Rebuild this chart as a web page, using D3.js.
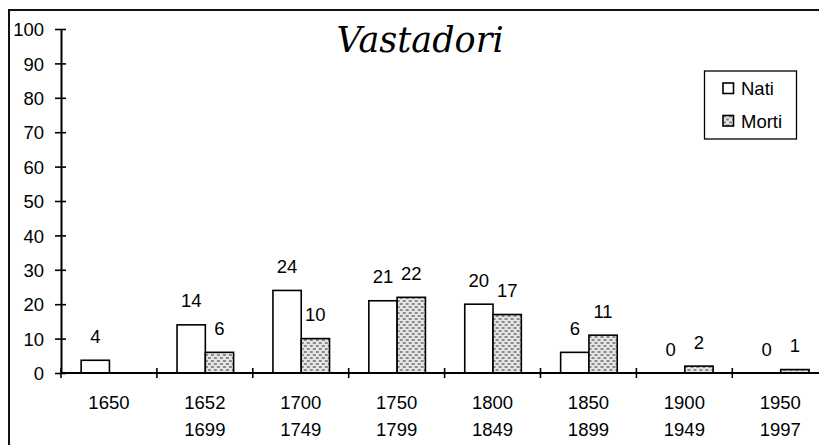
<!DOCTYPE html>
<html><head><meta charset="utf-8">
<script src="https://cdn.jsdelivr.net/npm/d3@7"></script>
<style>body{margin:0;background:#fff}svg{display:block}</style>
</head><body>
<svg id="c" width="819" height="445"></svg>
<script>
const categories = [["1650",""],["1652","1699"],["1700","1749"],["1750","1799"],["1800","1849"],["1850","1899"],["1900","1949"],["1950","1997"]];
const seriesNames = ["Nati","Morti"];
const nati  = [3.7, 14, 24, 21, 20, 6, 0, 0];
const morti = [null, 6, 10, 22, 17, 11, 2, 1];
const yTicks = [0,10,20,30,40,50,60,70,80,90,100];
const title = "Vastadori";

const svg = d3.select("#c");
const font = "'Liberation Sans', Arial, sans-serif";

const defs = svg.append("defs");
const pat = defs.append("pattern").attr("id","dots").attr("patternUnits","userSpaceOnUse")
  .attr("width",6).attr("height",6);
pat.append("rect").attr("width",6).attr("height",6).attr("fill","#e6e6e6");
pat.append("rect").attr("x",0).attr("y",0).attr("width",3).attr("height",2).attr("fill","#8a8a8a");
pat.append("rect").attr("x",3).attr("y",3).attr("width",3).attr("height",2).attr("fill","#8a8a8a");

// outer frame
svg.append("rect").attr("x",9).attr("y",10).attr("width",830).attr("height",460)
  .attr("fill","none").attr("stroke","#111").attr("stroke-width",2);

const x0 = d3.scaleBand().domain(d3.range(categories.length)).range([61, 61 + 8*95.9]);
const bw = x0.bandwidth();
const x1 = d3.scaleBand().domain(seriesNames).range([bw*0.21, bw*0.8]);
const y = d3.scaleLinear().domain([0,100]).range([373, 29]);

// bars
const data = categories.map((c,i)=>({i, vals:[{k:"Nati",v:nati[i]},{k:"Morti",v:morti[i]}]}));
const g = svg.selectAll("g.grp").data(data).join("g").attr("class","grp")
  .attr("transform", d=>`translate(${x0(d.i)},0)`);
g.selectAll("rect").data(d=>d.vals.filter(e=>e.v)).join("rect")
  .attr("x", e=>x1(e.k)).attr("width", x1.bandwidth())
  .attr("y", e=>y(e.v)).attr("height", e=>y(0)-y(e.v))
  .attr("fill", e=>e.k==="Nati" ? "#fff" : "url(#dots)")
  .attr("stroke","#000").attr("stroke-width",1.6);
g.selectAll("text").data(d=>d.vals.filter(e=>e.v!==null)).join("text")
  .attr("x", e=>x1(e.k)+x1.bandwidth()/2).attr("y", e=>y(e.v)-17.5)
  .attr("text-anchor","middle").attr("font-family",font).attr("font-size",18.5)
  .text(e=>d3.format(".0f")(e.v));

// y axis
const yAxis = svg.append("g").attr("transform","translate(61,0)")
  .call(d3.axisLeft(y).tickValues(yTicks).tickSize(0).tickPadding(17));
yAxis.select(".domain").attr("stroke","#000").attr("stroke-width",2);
yAxis.selectAll(".tick text").attr("font-family",font).attr("font-size",18.5).attr("fill","#000").attr("dy","0.36em");
yAxis.selectAll(".tick").append("line").attr("x1",-6).attr("x2",5).attr("stroke","#000").attr("stroke-width",1.6);

// x axis
const xa = svg.append("g");
xa.append("line").attr("x1",61).attr("x2",x0.range()[1]).attr("y1",y(0)).attr("y2",y(0))
  .attr("stroke","#000").attr("stroke-width",2);
xa.selectAll("line.tk").data(d3.range(categories.length)).join("line").attr("class","tk")
  .attr("x1",d=>x0(d)).attr("x2",d=>x0(d)).attr("y1",y(0)-5).attr("y2",y(0)+5)
  .attr("stroke","#000").attr("stroke-width",1.6);
const xl = xa.selectAll("text").data(categories.map((c,i)=>({c,i}))).join("text")
  .attr("text-anchor","middle").attr("font-family",font).attr("font-size",18.5);
xl.append("tspan").attr("x",d=>x0(d.i)+bw/2).attr("y",409).text(d=>d.c[0]);
xl.append("tspan").attr("x",d=>x0(d.i)+bw/2).attr("y",435.5).text(d=>d.c[1]);

// title
svg.append("text").attr("x",420).attr("y",52).attr("text-anchor","middle")
  .attr("font-family","'DejaVu Serif', 'Liberation Serif', serif").attr("font-style","italic")
  .attr("font-size",35).text(title);

// legend
const lg = svg.append("g");
lg.append("rect").attr("x",704.5).attr("y",71).attr("width",92).attr("height",68)
  .attr("fill","#fff").attr("stroke","#000").attr("stroke-width",1.3);
const li = lg.selectAll("g").data(seriesNames).join("g")
  .attr("transform",(d,i)=>`translate(723,${83 + i*32.5})`);
li.append("rect").attr("width",10.5).attr("height",10.5)
  .attr("fill",d=>d==="Nati"?"#fff":"url(#dots)").attr("stroke","#000").attr("stroke-width",1.6);
li.append("text").attr("x",18).attr("y",5.5).attr("dy","0.36em")
  .attr("font-family",font).attr("font-size",18.5).text(d=>d);
</script>
</body></html>
